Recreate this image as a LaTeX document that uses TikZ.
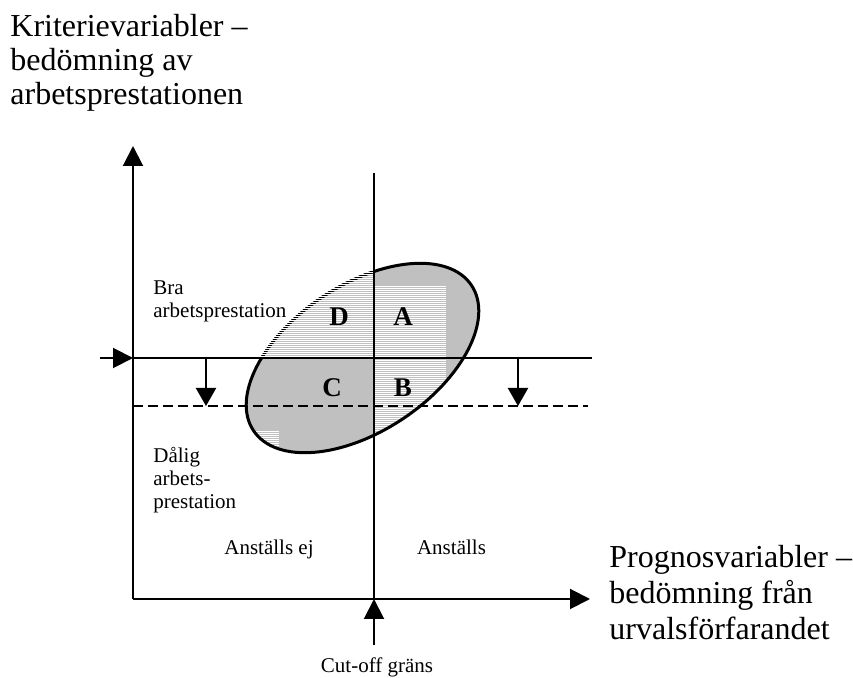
\documentclass[tikz,border=0pt]{standalone}
\usepackage{fontspec}
\setmainfont{Liberation Serif}
\usepackage{tikz}
\usetikzlibrary{arrows.meta,positioning}
\definecolor{Oval}{HTML}{C0C0C0}

\begin{document}
\begin{tikzpicture}[
    x=0.5pt, y=-0.5pt,
    axis/.style={line width=1pt, -{Triangle[length=10pt,width=10pt]}},
    plain/.style={line width=1pt},
    limit/.style={line width=1pt, dash pattern=on 5pt off 2.5pt},
    drop/.style={line width=1pt, -{Triangle[length=9pt,width=10pt]}},
    bigtext/.style={font={\fontsize{16}{17}\selectfont}, align=left, inner sep=0pt},
    smalltext/.style={font={\fontsize{10.5}{11.5}\selectfont}, align=left, inner sep=0pt},
    region/.style={font={\fontsize{13.5}{15}\selectfont\bfseries}, inner sep=0pt},
    hatch/.style={draw=white, line width=0.5pt},
    oval/.style={rotate around={33.7:(362.5,358)}}
  ]
  \useasboundingbox (0,0) rectangle (853,678);

  % axes and cut-off
  \coordinate (origin) at (133,599);
  \coordinate (ytop) at (133,146);
  \coordinate (xend) at (590,599);
  \coordinate (cuttop) at (374,173);
  \coordinate (cutbase) at (374,599);
  \coordinate (cutfoot) at (374,645);

  \coordinate (hin) at (100,358);
  \coordinate (hleft) at (133,358);
  \coordinate (hright) at (592,358);
  \coordinate (dleft) at (133,406);
  \coordinate (dright) at (588,406);

  \coordinate (drop1top) at (206,358);
  \coordinate (drop1end) at (206,406);
  \coordinate (drop2top) at (518,358);
  \coordinate (drop2end) at (518,406);

  % the oval
  \fill[Oval, oval] (362.5,358) ellipse [x radius=65.5pt, y radius=36.5pt];
  \begin{scope}
    \clip[oval] (362.5,358) ellipse [x radius=65.5pt, y radius=36.5pt];
    \foreach \y in {287,289,...,461}
      \draw[hatch] (374,\y) -- (446,\y);
    \foreach \y in {432,434,...,461}
      \draw[hatch] (230,\y) -- (279,\y);
  \end{scope}
  \draw[line width=1.5pt, oval] (362.5,358) ellipse [x radius=65.5pt, y radius=36.5pt];
  \begin{scope}
    \clip[oval] (362.5,358) ellipse [x radius=67pt, y radius=38pt];
    \clip (200,250) rectangle (374,358);
    \foreach \y in {251,253,...,357}
      \draw[hatch] (200,\y) -- (374,\y);
  \end{scope}

  \draw[axis] (origin) -- (ytop);
  \draw[axis] (origin) -- (xend);
  \draw[plain] (cuttop) -- (cutbase);
  \draw[axis] (cutfoot) -- (cutbase);
  \draw[axis] (hin) -- (hleft);
  \draw[plain] (hleft) -- (hright);
  \draw[limit] (dleft) -- (dright);
  \draw[drop] (drop1top) -- (drop1end);
  \draw[drop] (drop2top) -- (drop2end);

  % region letters
  \node[region] (D) at (339,317) {D};
  \node[region] (A) at (403,317) {A};
  \node[region] (C) at (332,388) {C};
  \node[region] (B) at (403,388) {B};

  % labels
  \node[bigtext, anchor=north west] (ylabel) at (10,14)
  {Kriterievariabler --\\bedömning av\\arbetsprestationen};
  \node[bigtext, font={\fontsize{16}{18}\selectfont}, anchor=north west] (xlabel) at (609,545)
  {Prognosvariabler --\\bedömning från\\urvalsförfarandet};

  \node[smalltext, anchor=north west] (good) at (153,280)
  {Bra\\arbetsprestation};
  \node[smalltext, anchor=north west] (poor) at (153,447)
  {Dålig\\arbets-\\prestation};

  \node[smalltext, anchor=base] (nothired) at (269,555) {Anställs ej};
  \node[smalltext, anchor=base] (hired) at (451.5,555) {Anställs};
  \node[smalltext, anchor=base] (cutoff) at (377,673) {Cut-off gräns};
\end{tikzpicture}
\end{document}
